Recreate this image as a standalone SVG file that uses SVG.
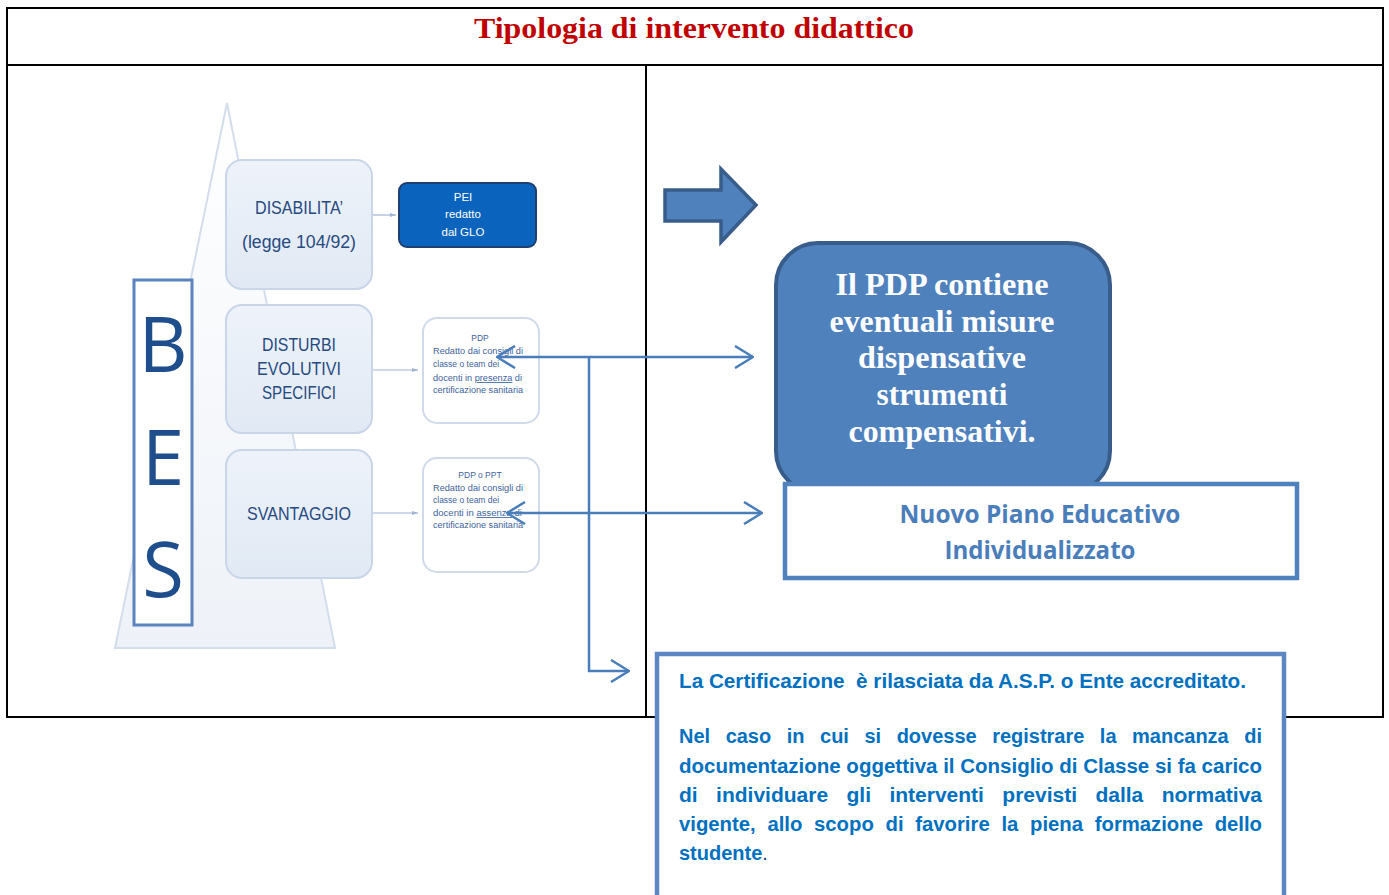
<svg xmlns="http://www.w3.org/2000/svg" width="1389" height="895" viewBox="0 0 1389 895">
<style>
.tbl{fill:none;stroke:#000;stroke-width:2}
.cat{fill:url(#catg);stroke:#c9d5e9;stroke-width:2}
.cattxt{font-family:"Liberation Sans",Arial,sans-serif;font-size:18px;fill:#274a82;text-anchor:middle}
.small{font-family:"Liberation Sans",Arial,sans-serif;font-size:8.5px;fill:#3d63a0}
.thin{stroke:#9fb3d3;stroke-width:1.2;fill:none}
.conn{stroke:#4a7ebb;stroke-width:2.5;fill:none}
.pdptxt{font-family:"Liberation Serif","Times New Roman",serif;font-weight:bold;font-size:31px;fill:#fff;text-anchor:middle}
.blue{font-family:"Liberation Sans",Arial,sans-serif;font-weight:bold;fill:#0070c0;font-size:20px}
</style>
<defs>
<linearGradient id="catg" x1="0" y1="0" x2="0" y2="1">
<stop offset="0" stop-color="#eef3fa"/><stop offset="1" stop-color="#e1e9f4"/>
</linearGradient>
<linearGradient id="trig" x1="0" y1="0" x2="0" y2="1">
<stop offset="0" stop-color="#ffffff"/><stop offset="1" stop-color="#eef2f8"/>
</linearGradient>
<marker id="ah" viewBox="0 0 20 24" markerWidth="20" markerHeight="24" refX="19" refY="12" orient="auto-start-reverse" markerUnits="userSpaceOnUse">
<path d="M1,1 L19,12 L1,23" fill="none" stroke="#4a7ebb" stroke-width="2.5"/>
</marker>
<marker id="sah" viewBox="0 0 6 6" markerWidth="6" markerHeight="6" refX="6" refY="3" orient="auto" markerUnits="userSpaceOnUse">
<path d="M0,1 L6,3 L0,5 Z" fill="#9fb3d3"/>
</marker>
</defs>

<g id="table">
<rect class="tbl" x="7" y="8" width="1376" height="709"/>
<line class="tbl" x1="7" y1="65" x2="1383" y2="65"/>
<line class="tbl" x1="646" y1="65" x2="646" y2="717"/>
<text x="694" y="38" font-family="Liberation Serif,'Times New Roman',serif" font-weight="bold" font-size="30" fill="#c00000" text-anchor="middle" textLength="440" lengthAdjust="spacingAndGlyphs">Tipologia di intervento didattico</text>
</g>

<g id="bes-image">
<polygon points="227,103 115,648 335,648" fill="url(#trig)" stroke="#d3ddec" stroke-width="2"/>
<g id="bes">
<rect x="134" y="280" width="58" height="345" fill="#fff" stroke="#5b83bd" stroke-width="3"/>
<text x="163" y="372" font-family="'Open Sans','Liberation Sans',sans-serif" font-size="76" fill="#1f4e8c" text-anchor="middle">B</text>
<text x="163" y="485" font-family="'Open Sans','Liberation Sans',sans-serif" font-size="76" fill="#1f4e8c" text-anchor="middle">E</text>
<text x="163" y="597" font-family="'Open Sans','Liberation Sans',sans-serif" font-size="76" fill="#1f4e8c" text-anchor="middle">S</text>
</g>
<g id="disabilita">
<rect class="cat" x="226" y="160" width="146" height="129" rx="16"/>
<text class="cattxt" x="299" y="214" textLength="88" lengthAdjust="spacingAndGlyphs">DISABILITA’</text>
<text class="cattxt" x="299" y="248" textLength="114" lengthAdjust="spacingAndGlyphs">(legge 104/92)</text>
</g>
<g id="disturbi">
<rect class="cat" x="226" y="305" width="146" height="128" rx="16"/>
<text class="cattxt" x="299" y="351" textLength="74" lengthAdjust="spacingAndGlyphs">DISTURBI</text>
<text class="cattxt" x="299" y="375" textLength="84" lengthAdjust="spacingAndGlyphs">EVOLUTIVI</text>
<text class="cattxt" x="299" y="399" textLength="74" lengthAdjust="spacingAndGlyphs">SPECIFICI</text>
</g>
<g id="svantaggio">
<rect class="cat" x="226" y="450" width="146" height="128" rx="16"/>
<text class="cattxt" x="299" y="520" textLength="104" lengthAdjust="spacingAndGlyphs">SVANTAGGIO</text>
</g>
<g id="pei">
<rect x="399" y="183" width="137" height="64" rx="8" fill="#0a63bd" stroke="#1e3f70" stroke-width="2"/>
<text x="463" y="201" font-family="'Liberation Sans',sans-serif" font-size="11.5" fill="#fff" text-anchor="middle">PEI</text>
<text x="463" y="218" font-family="'Liberation Sans',sans-serif" font-size="11.5" fill="#fff" text-anchor="middle">redatto</text>
<text x="463" y="236" font-family="'Liberation Sans',sans-serif" font-size="11.5" fill="#fff" text-anchor="middle">dal GLO</text>
</g>
<g id="pdp-small">
<rect x="423" y="318" width="116" height="105" rx="14" fill="#fff" stroke="#d0daea" stroke-width="2"/>
<text class="small" x="480" y="341" text-anchor="middle">PDP</text>
<text class="small" x="433" y="354" textLength="90" lengthAdjust="spacingAndGlyphs">Redatto dai consigli di</text>
<text class="small" x="433" y="367">classe o team dei</text>
<text class="small" x="433" y="381" textLength="89" lengthAdjust="spacingAndGlyphs">docenti in <tspan text-decoration="underline">presenza</tspan> di</text>
<text class="small" x="433" y="393" textLength="90" lengthAdjust="spacingAndGlyphs">certificazione sanitaria</text>
</g>
<g id="ppt-small">
<rect x="423" y="458" width="116" height="114" rx="14" fill="#fff" stroke="#d0daea" stroke-width="2"/>
<text class="small" x="480" y="478" text-anchor="middle">PDP o PPT</text>
<text class="small" x="433" y="491" textLength="90" lengthAdjust="spacingAndGlyphs">Redatto dai consigli di</text>
<text class="small" x="433" y="503">classe o team dei</text>
<text class="small" x="433" y="516" textLength="89" lengthAdjust="spacingAndGlyphs">docenti in <tspan text-decoration="underline">assenza</tspan> di</text>
<text class="small" x="433" y="528" textLength="90" lengthAdjust="spacingAndGlyphs">certificazione sanitaria</text>
</g>
<g id="small-arrows">
<line class="thin" x1="373" y1="215" x2="396" y2="215" marker-end="url(#sah)"/>
<line class="thin" x1="373" y1="370" x2="418" y2="370" marker-end="url(#sah)"/>
<line class="thin" x1="373" y1="513" x2="418" y2="513" marker-end="url(#sah)"/>
</g>
</g>

<g id="block-arrow">
<polygon points="665,190 721,190 721,169 756,205 721,242 721,221 665,221" fill="#4f81bd" stroke="#385d8a" stroke-width="3.5" stroke-linejoin="miter"/>
</g>

<g id="pdp-box">
<rect x="776" y="243" width="334" height="250" rx="42" fill="#4f81bd" stroke="#385d8a" stroke-width="4"/>
<text class="pdptxt" x="942" y="295" textLength="213" lengthAdjust="spacingAndGlyphs">Il PDP contiene</text>
<text class="pdptxt" x="942" y="332" textLength="225" lengthAdjust="spacingAndGlyphs">eventuali misure</text>
<text class="pdptxt" x="942" y="368" textLength="168" lengthAdjust="spacingAndGlyphs">dispensative</text>
<text class="pdptxt" x="942" y="405" textLength="131" lengthAdjust="spacingAndGlyphs">strumenti</text>
<text class="pdptxt" x="942" y="442" textLength="187" lengthAdjust="spacingAndGlyphs">compensativi.</text>
</g>

<g id="nuovo-pei">
<rect x="785" y="484" width="512" height="94" fill="#fff" stroke="#4f81bd" stroke-width="4.5"/>
<text x="1040" y="523" font-family="'Open Sans','Liberation Sans',sans-serif" font-weight="bold" font-size="25" fill="#4a7ebb" text-anchor="middle" textLength="281" lengthAdjust="spacingAndGlyphs">Nuovo Piano Educativo</text>
<text x="1040" y="559" font-family="'Open Sans','Liberation Sans',sans-serif" font-weight="bold" font-size="25" fill="#4a7ebb" text-anchor="middle" textLength="191" lengthAdjust="spacingAndGlyphs">Individualizzato</text>
</g>

<g id="certificazione">
<rect x="657" y="654" width="627" height="260" fill="#fff" stroke="#5b87c2" stroke-width="4.5"/>
<text class="blue" x="679" y="688" style="white-space:pre" textLength="567" lengthAdjust="spacingAndGlyphs">La Certificazione  è rilasciata da A.S.P. o Ente accreditato.</text>
<text class="blue" x="679" y="743" word-spacing="10" textLength="583" lengthAdjust="spacingAndGlyphs">Nel caso in cui si dovesse registrare la mancanza di</text>
<text class="blue" x="679" y="773" textLength="583" lengthAdjust="spacingAndGlyphs">documentazione oggettiva il Consiglio di Classe si fa carico</text>
<text class="blue" x="679" y="802" word-spacing="12" textLength="583" lengthAdjust="spacingAndGlyphs">di individuare gli interventi previsti dalla normativa</text>
<text class="blue" x="679" y="831" word-spacing="6" textLength="583" lengthAdjust="spacingAndGlyphs">vigente, allo scopo di favorire la piena formazione dello</text>
<text class="blue" x="679" y="860">studente<tspan fill="#1f3f6f" font-weight="normal">.</tspan></text>
</g>

<g id="connectors">
<path class="conn" d="M497,357 H753" marker-start="url(#ah)" marker-end="url(#ah)"/>
<path class="conn" d="M507,513 H762" marker-start="url(#ah)" marker-end="url(#ah)"/>
<path class="conn" d="M589,357 V671 H629" marker-end="url(#ah)"/>
</g>
</svg>
